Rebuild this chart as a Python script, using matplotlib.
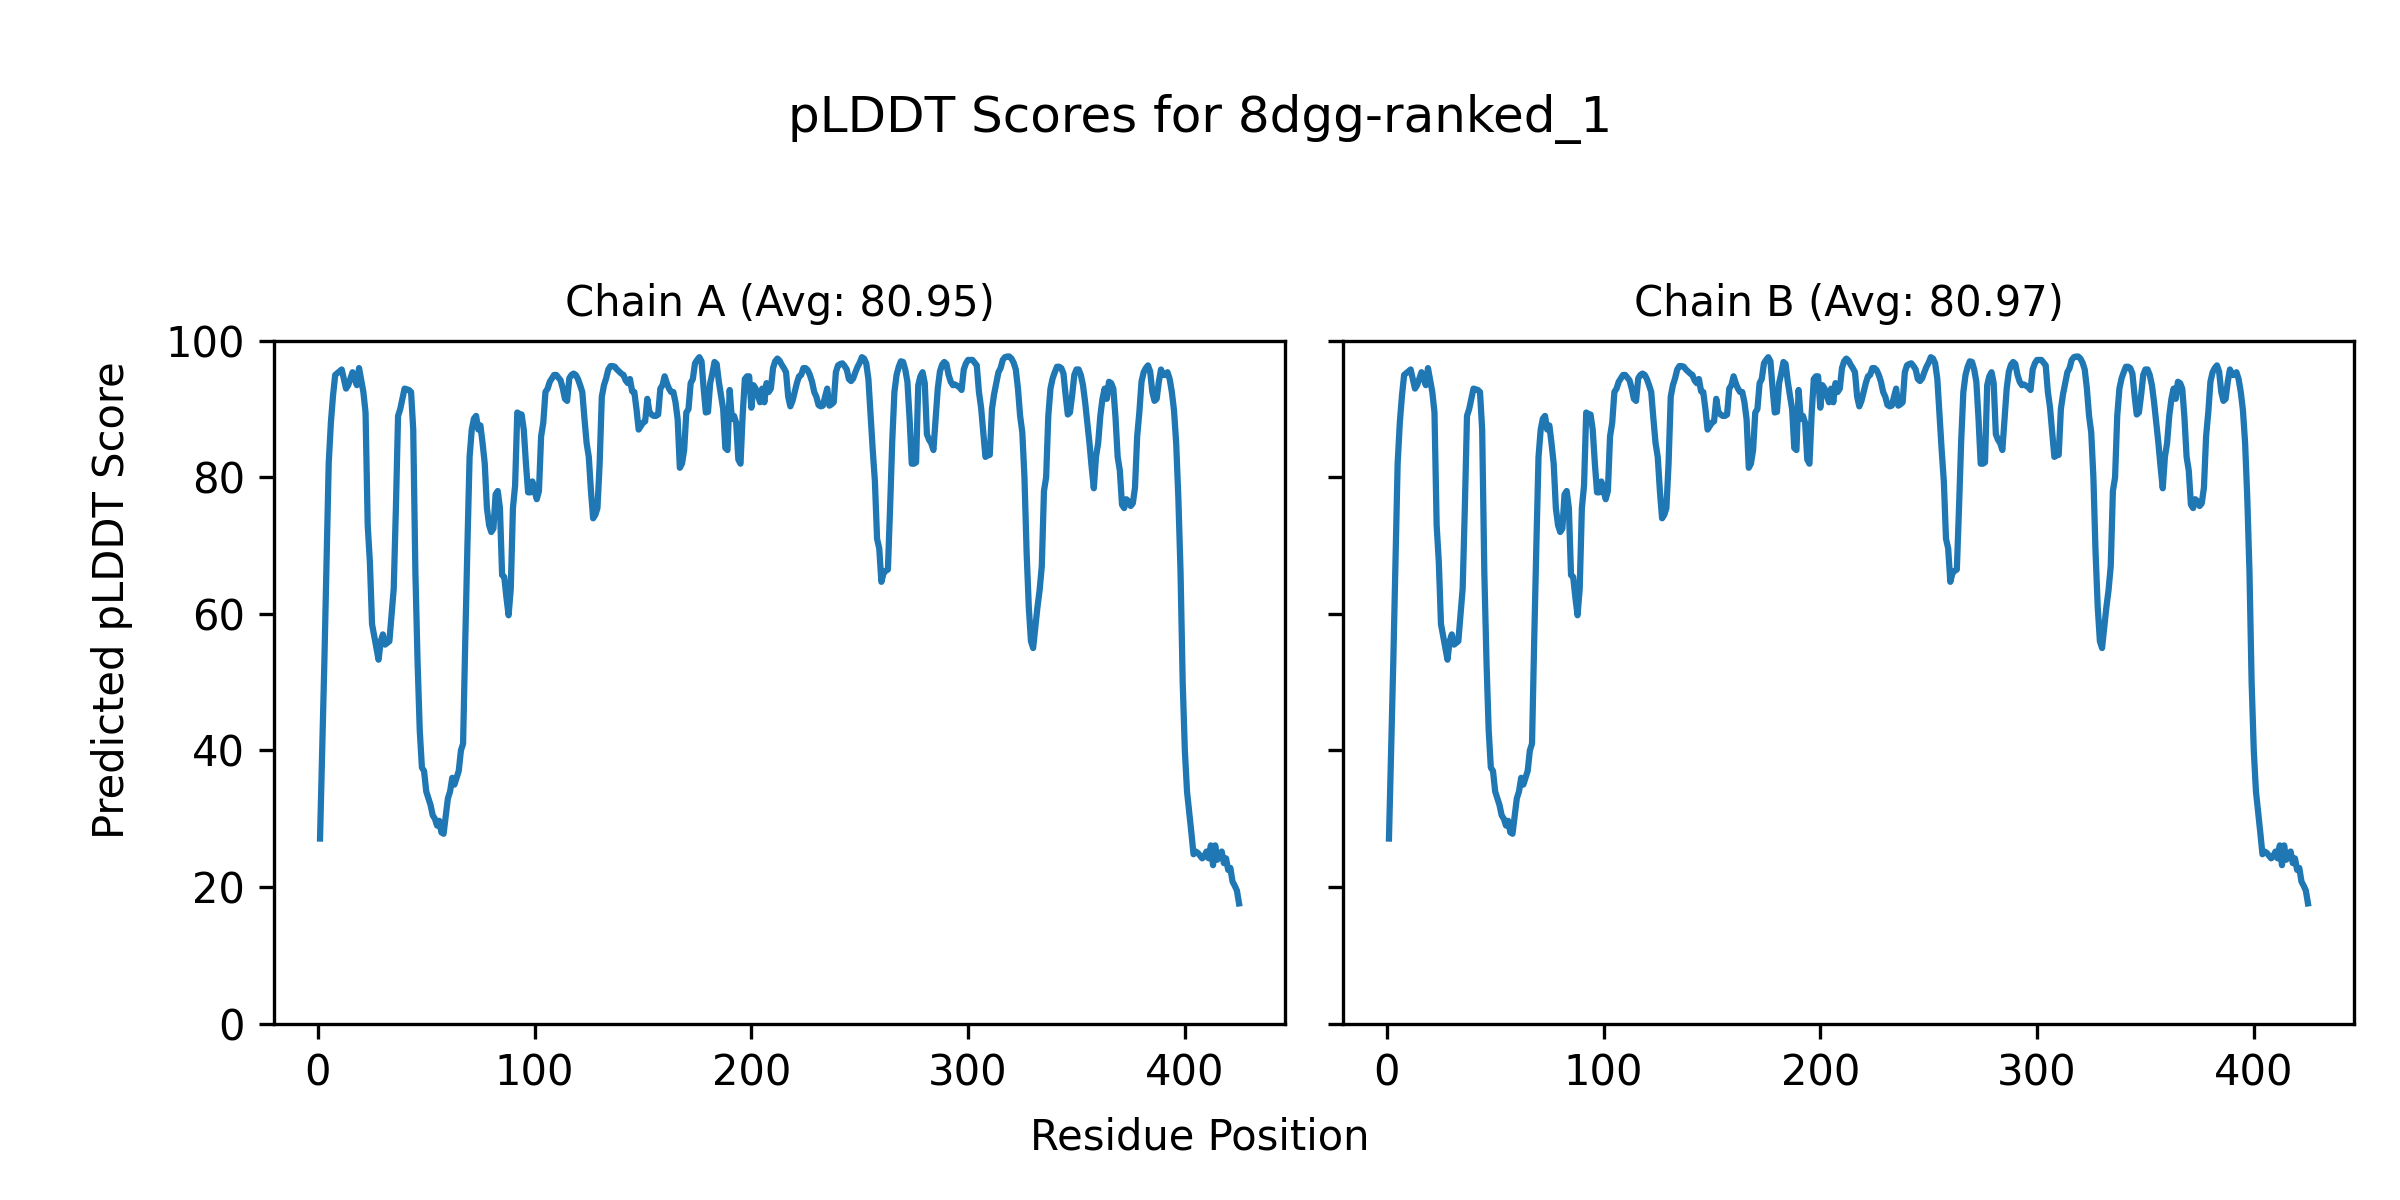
import matplotlib
matplotlib.use("Agg")
import matplotlib.pyplot as plt

# 殘基位置(讀圖估計)
residues = [
    1, 3, 5, 6, 7, 8, 11, 13, 14, 16, 18, 19, 21, 22, 23, 24, 25, 27, 28, 29,
    30, 31, 33, 35, 36, 37, 38, 40, 42, 43, 44, 45, 46, 47, 48, 49, 50, 51, 52, 53,
    54, 55, 56, 57, 58, 59, 60, 61, 62, 63, 64, 65, 66, 67, 68, 69, 70, 71, 72, 73,
    74, 75, 76, 77, 78, 79, 80, 81, 82, 83, 84, 85, 86, 87, 88, 89, 90, 91, 92, 93,
    94, 95, 96, 97, 98, 99, 100, 101, 102, 103, 104, 105, 106, 107, 108, 109, 110, 111, 112, 113,
    114, 115, 116, 117, 118, 119, 120, 121, 122, 123, 124, 125, 126, 127, 128, 129, 130, 131, 132, 133,
    134, 135, 136, 137, 138, 139, 140, 141, 142, 143, 144, 145, 146, 147, 148, 149, 150, 151, 152, 153,
    154, 155, 156, 157, 158, 159, 160, 161, 162, 163, 164, 165, 166, 167, 168, 169, 170, 171, 172, 173,
    174, 175, 176, 177, 178, 179, 180, 181, 182, 183, 184, 185, 186, 187, 188, 189, 190, 191, 192, 193,
    194, 195, 196, 197, 198, 199, 200, 201, 202, 203, 204, 205, 206, 207, 208, 209, 210, 211, 212, 213,
    214, 215, 216, 217, 218, 219, 220, 221, 222, 223, 224, 225, 226, 227, 228, 229, 230, 231, 232, 233,
    234, 235, 236, 237, 238, 239, 240, 241, 242, 243, 244, 245, 246, 247, 248, 249, 250, 251, 252, 253,
    254, 255, 256, 257, 258, 259, 260, 261, 262, 263, 264, 265, 266, 267, 268, 269, 270, 271, 272, 273,
    274, 275, 276, 277, 278, 279, 280, 281, 282, 283, 284, 285, 286, 287, 288, 289, 290, 291, 292, 293,
    294, 295, 296, 297, 298, 299, 300, 301, 302, 303, 304, 305, 306, 307, 308, 309, 310, 311, 312, 313,
    314, 315, 316, 317, 318, 319, 320, 321, 322, 323, 324, 325, 326, 327, 328, 329, 330, 331, 332, 333,
    334, 335, 336, 337, 338, 339, 340, 341, 342, 343, 344, 345, 346, 347, 348, 349, 350, 351, 352, 353,
    354, 355, 356, 357, 358, 359, 360, 361, 362, 363, 364, 365, 366, 367, 368, 369, 370, 371, 372, 373,
    374, 375, 376, 377, 378, 379, 380, 381, 382, 383, 384, 385, 386, 387, 388, 389, 390, 391, 392, 393,
    394, 395, 396, 397, 398, 399, 400, 401, 402, 403, 404, 405, 406, 407, 408, 409, 410, 411, 412, 413,
    414, 415, 416, 417, 418, 419, 420, 421, 422, 423, 424, 425,
]

# Chain A 的 pLDDT 分數(讀圖估計)
chain_a_scores = [
    27.1, 53.0, 82.0, 88.0, 92.0, 95.0, 95.8, 93.0, 93.5, 95.4, 93.5, 96.0, 92.5, 89.5, 73.0, 67.6, 58.5, 55.0, 53.3, 56.0,
    57.0, 55.5, 56.0, 63.7, 75.5, 89.0, 90.0, 93.0, 92.8, 92.5, 87.0, 66.0, 53.0, 43.0, 37.5, 37.0, 34.0, 33.0, 32.0, 30.5,
    30.0, 29.0, 29.7, 28.0, 27.8, 30.4, 33.0, 34.0, 36.0, 35.0, 36.0, 37.0, 40.0, 41.0, 56.0, 70.0, 83.0, 87.0, 88.6, 89.0,
    87.0, 87.6, 85.0, 82.0, 75.5, 73.0, 72.0, 72.5, 77.5, 78.0, 75.5, 65.7, 65.4, 62.4, 59.8, 63.7, 75.5, 78.8, 89.5, 89.3,
    89.2, 87.0, 82.0, 77.8, 77.8, 79.4, 78.0, 76.8, 78.0, 86.0, 88.0, 92.5, 93.0, 94.0, 94.5, 95.0, 95.0, 94.6, 94.2, 93.0,
    91.5, 91.2, 94.5, 95.0, 95.2, 95.0, 94.4, 93.5, 92.5, 88.6, 85.0, 83.0, 78.0, 74.0, 74.5, 75.5, 82.0, 91.8, 93.5, 94.5,
    95.8, 96.3, 96.3, 96.2, 95.8, 95.5, 95.2, 95.0, 94.2, 93.8, 94.4, 92.6, 92.5, 90.0, 87.0, 87.5, 88.0, 88.2, 91.5, 89.5,
    89.2, 89.0, 89.0, 89.2, 93.0, 93.5, 94.8, 93.8, 93.0, 92.5, 92.5, 91.0, 88.5, 81.4, 82.0, 84.0, 89.5, 90.0, 93.8, 94.4,
    96.7, 97.2, 97.6, 97.0, 93.0, 89.5, 89.6, 93.8, 95.2, 96.9, 96.6, 94.0, 92.0, 90.0, 84.3, 84.0, 92.8, 88.6, 89.0, 88.0,
    82.6, 82.0, 89.2, 94.4, 94.8, 94.8, 90.2, 93.5, 93.0, 92.0, 91.0, 93.0, 91.0, 93.8, 92.5, 93.0, 96.0, 97.0, 97.4, 97.1,
    96.5, 96.0, 95.4, 91.8, 90.4, 91.2, 92.5, 93.8, 94.8, 95.0, 96.0, 96.0, 95.7, 95.0, 94.0, 92.5, 91.8, 90.6, 90.4, 90.5,
    91.8, 93.0, 90.5, 90.7, 91.0, 95.4, 96.4, 96.6, 96.7, 96.3, 95.8, 94.4, 94.1, 94.5, 95.4, 96.2, 96.8, 97.6, 97.4, 96.7,
    94.4, 89.2, 84.0, 79.4, 71.0, 69.6, 64.7, 66.0, 66.3, 66.5, 75.5, 85.3, 92.5, 95.0, 96.2, 97.0, 96.9, 95.8, 94.0, 88.6,
    82.0, 82.0, 82.2, 93.5, 94.8, 95.4, 93.8, 86.3, 85.5, 85.0, 84.0, 88.6, 93.0, 95.5, 96.5, 96.9, 96.6, 95.0, 94.0, 93.5,
    93.6, 93.4, 93.2, 92.8, 95.8, 96.7, 97.2, 97.2, 97.2, 96.8, 96.4, 92.5, 90.2, 86.6, 83.0, 83.2, 83.3, 90.0, 92.2, 93.8,
    95.4, 96.0, 97.2, 97.6, 97.7, 97.7, 97.4, 96.8, 95.8, 93.0, 89.0, 86.6, 80.0, 69.0, 61.0, 56.0, 55.0, 58.0, 61.0, 63.5,
    67.0, 78.0, 80.0, 89.0, 93.0, 94.5, 95.4, 96.2, 96.2, 96.0, 95.2, 92.0, 89.2, 89.5, 92.0, 95.0, 95.8, 95.8, 95.0, 93.5,
    91.0, 88.0, 85.0, 81.5, 78.4, 83.0, 85.0, 89.0, 91.5, 93.0, 91.5, 94.0, 93.8, 93.0, 88.8, 83.0, 81.0, 76.0, 75.5, 76.8,
    76.5, 75.8, 76.2, 78.5, 86.0, 89.5, 94.0, 95.4, 96.0, 96.4, 95.5, 92.5, 91.2, 91.5, 94.0, 95.8, 95.0, 95.0, 95.4, 94.4,
    92.5, 89.8, 85.0, 77.0, 66.3, 50.0, 40.0, 34.0, 31.0, 28.0, 24.8, 25.2, 25.0, 24.6, 24.2, 24.5, 25.2, 24.2, 26.1, 23.2,
    26.1, 24.0, 24.8, 25.2, 23.5, 24.2, 22.5, 22.8, 20.8, 20.2, 19.5, 17.6,
]

# Chain B 在圖上與 Chain A 幾乎相同
chain_b_scores = list(chain_a_scores)

chain_names = ["A", "B"]
chain_avgs = [80.95, 80.97]
chain_scores = [chain_a_scores, chain_b_scores]

# 建立 figure 與兩個共用 y 軸的子圖
fig, axes = plt.subplots(1, 2, figsize=(8, 4), dpi=300, sharey=True)
fig.subplots_adjust(left=0.1142, right=0.9808, bottom=0.147, top=0.716, wspace=0.0574)

for ax, name, avg, scores in zip(axes, chain_names, chain_avgs, chain_scores):
    ax.plot(residues, scores, color="#1f77b4", linewidth=1.5)
    ax.set_title(f"Chain {name} (Avg: {avg:.2f})", fontsize=10)
    ax.set_ylim(0, 100)
    ax.set_xticks([0, 100, 200, 300, 400])

# 整張圖共用的標題與軸標籤
fig.suptitle("pLDDT Scores for 8dgg-ranked_1", fontsize=12, y=0.9005, va="center")
fig.supxlabel("Residue Position", fontsize=10, y=0.0525, va="center")
fig.supylabel("Predicted pLDDT Score", fontsize=10, x=0.0466, ha="center", va="center")

fig.savefig("out.png", dpi=300)
